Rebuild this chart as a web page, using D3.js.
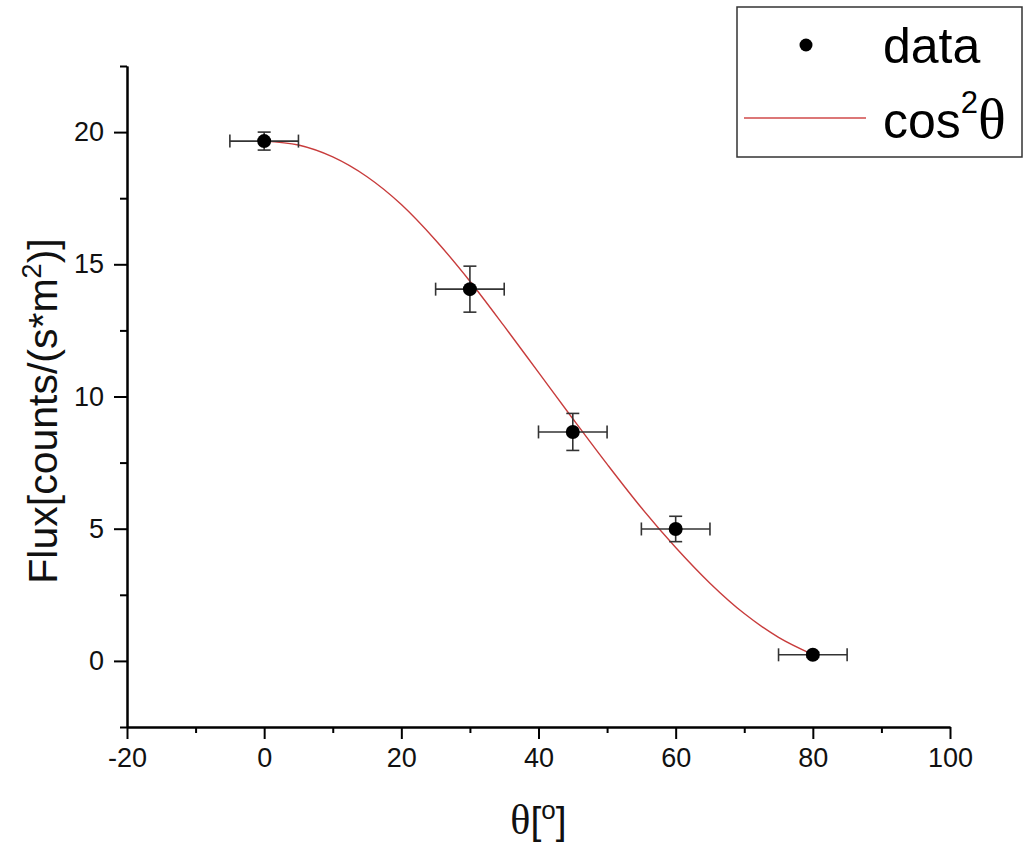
<!DOCTYPE html>
<html>
<head>
<meta charset="utf-8">
<script src="https://cdn.jsdelivr.net/npm/d3@7"></script>
<style>
  body { margin: 0; background: #fff; }
  svg { display: block; font-family: "Liberation Sans", Arial, sans-serif; }
</style>
</head>
<body>
<div id="chart"></div>
<script>
// measured points
const theta = [0, 30, 45, 60, 80];
const flux = [19.66, 14.06, 8.66, 4.99, 0.23];
const fluxErr = [0.34, 0.87, 0.70, 0.48, 0.10];
const thetaErr = [5, 5, 5, 5, 5];

// cos^2 fit curve
const fitTheta = [0, 5, 10, 15, 20, 25, 30, 35, 40, 45, 50, 55, 60, 65, 70, 75, 80];
const fitFlux = [19.66, 19.51, 19.06, 18.31, 17.26, 15.91, 14.36, 12.66, 10.91, 9.16, 7.44, 5.79, 4.29, 2.94, 1.79, 0.89, 0.24];

const xTicks = [-20, 0, 20, 40, 60, 80, 100];
const xMinor = [-10, 10, 30, 50, 70, 90];
const yTicks = [0, 5, 10, 15, 20];
const yMinor = [-2.5, 2.5, 7.5, 12.5, 17.5, 22.5];

const W = 1027, H = 848;
const pLeft = 127, pRight = 950, pTop = 66, pBottom = 727;

const serif = "'Liberation Serif', 'Times New Roman', serif";

const svg = d3.select("#chart").append("svg")
  .attr("width", W).attr("height", H);

const x = d3.scaleLinear().domain([-20, 100]).range([pLeft, pRight]);
const y = d3.scaleLinear().domain([-2.5, 22.5]).range([pBottom, pTop]);

// axes
function styleAxis(g) {
  g.select(".domain").attr("stroke", "#000").attr("stroke-width", 2);
  g.selectAll(".tick line").attr("stroke", "#000").attr("stroke-width", 2);
  g.selectAll(".tick text")
    .attr("fill", "#111")
    .style("font-size", "27px")
    .style("font-family", "'Liberation Sans', Arial, sans-serif");
}
const fmt = d => String(d);

svg.append("g")
  .attr("transform", `translate(0,${pBottom})`)
  .call(d3.axisBottom(x).tickValues(xMinor).tickSize(6).tickSizeOuter(0).tickFormat(""))
  .call(styleAxis);
svg.append("g")
  .attr("transform", `translate(0,${pBottom})`)
  .call(d3.axisBottom(x).tickValues(xTicks).tickSize(12).tickSizeOuter(0).tickPadding(9).tickFormat(fmt))
  .call(styleAxis);

svg.append("g")
  .attr("transform", `translate(${pLeft},0)`)
  .call(d3.axisLeft(y).tickValues(yMinor).tickSize(7).tickSizeOuter(0).tickFormat(""))
  .call(styleAxis);
svg.append("g")
  .attr("transform", `translate(${pLeft},0)`)
  .call(d3.axisLeft(y).tickValues(yTicks).tickSize(13).tickSizeOuter(0).tickPadding(10).tickFormat(fmt))
  .call(styleAxis);

// axis titles
const yTitle = svg.append("text")
  .attr("transform", "translate(57,411) rotate(-90)")
  .attr("text-anchor", "middle")
  .style("font-size", "41px")
  .attr("fill", "#111");
yTitle.append("tspan").text("Flux[counts/(s*m");
yTitle.append("tspan").attr("dy", -16).style("font-size", "27px").text("2");
yTitle.append("tspan").attr("dy", 16).text(")]");

const xTitle = svg.append("text")
  .attr("x", (pLeft + pRight) / 2)
  .attr("y", 834)
  .attr("text-anchor", "middle")
  .style("font-size", "39px")
  .attr("fill", "#111");
xTitle.append("tspan").style("font-family", serif).style("font-size", "42px").text("θ");
xTitle.append("tspan").text("[");
xTitle.append("tspan").attr("dy", -15).style("font-size", "26px").text("o");
xTitle.append("tspan").attr("dy", 15).text("]");

// fit curve
const line = d3.line()
  .x((d, i) => x(fitTheta[i]))
  .y(d => y(d))
  .curve(d3.curveMonotoneX);

svg.append("path")
  .datum(fitFlux)
  .attr("d", line)
  .attr("fill", "none")
  .attr("stroke", "#c83c3c")
  .attr("stroke-width", 1.4);

// error bars
const pts = theta.map((t, i) => ({ t: t, f: flux[i], ef: fluxErr[i], et: thetaErr[i] }));
const cap = 6.5;
const eb = svg.append("g").attr("stroke", "#333").attr("stroke-width", 1.6);

pts.forEach(d => {
  const cx = x(d.t), cy = y(d.f);
  const x0 = x(d.t - d.et), x1 = x(d.t + d.et);
  const y0 = y(d.f - d.ef), y1 = y(d.f + d.ef);
  eb.append("line").attr("x1", x0).attr("x2", x1).attr("y1", cy).attr("y2", cy);
  eb.append("line").attr("x1", x0).attr("x2", x0).attr("y1", cy - cap).attr("y2", cy + cap);
  eb.append("line").attr("x1", x1).attr("x2", x1).attr("y1", cy - cap).attr("y2", cy + cap);
  eb.append("line").attr("x1", cx).attr("x2", cx).attr("y1", y0).attr("y2", y1);
  eb.append("line").attr("x1", cx - cap).attr("x2", cx + cap).attr("y1", y0).attr("y2", y0);
  eb.append("line").attr("x1", cx - cap).attr("x2", cx + cap).attr("y1", y1).attr("y2", y1);
});

svg.selectAll("circle.pt")
  .data(pts)
  .enter()
  .append("circle")
  .attr("class", "pt")
  .attr("cx", d => x(d.t))
  .attr("cy", d => y(d.f))
  .attr("r", 7)
  .attr("fill", "#000");

// legend
const lg = svg.append("g");
lg.append("rect")
  .attr("x", 737).attr("y", 7)
  .attr("width", 285).attr("height", 150)
  .attr("fill", "#fff")
  .attr("stroke", "#333")
  .attr("stroke-width", 1.5);
lg.append("circle").attr("cx", 806).attr("cy", 45).attr("r", 6.5).attr("fill", "#000");
lg.append("text").attr("x", 883).attr("y", 63)
  .style("font-size", "50px").attr("fill", "#000").text("data");
lg.append("line")
  .attr("x1", 744).attr("x2", 866).attr("y1", 118).attr("y2", 118)
  .attr("stroke", "#d04a4a").attr("stroke-width", 1.4);
const lt = lg.append("text").attr("x", 883).attr("y", 138)
  .style("font-size", "50px").attr("fill", "#000");
lt.append("tspan").text("cos");
lt.append("tspan").attr("dy", -25).style("font-size", "31px").text("2");
lt.append("tspan").attr("dy", 25)
  .style("font-family", serif).style("font-size", "58px")
  .text("θ");
</script>
</body>
</html>
